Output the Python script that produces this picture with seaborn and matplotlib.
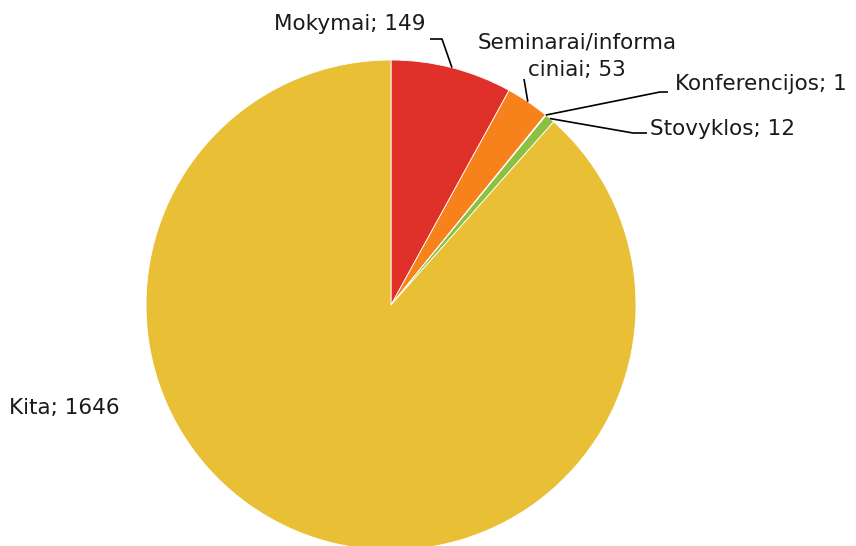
import numpy as np
import matplotlib
matplotlib.use("Agg")
import matplotlib.pyplot as plt
import seaborn as sns

categories = ["Mokymai", "Seminarai/informaciniai", "Konferencijos", "Stovyklos", "Kita"]
values = [149, 53, 1, 12, 1646]
label_texts = ["Mokymai; 149", "Seminarai/informa\nciniai; 53", "Konferencijos; 1",
               "Stovyklos; 12", "Kita; 1646"]
colors = ["#DF3129", "#F7821C", "#4F81BD", "#8BC040", "#E8BF35"]

sns.set_theme(style="white")
plt.rcParams["font.family"] = ["DejaVu Sans"]

W, H = 856, 546
CX, CY, R = 391, 305, 245


def px(x, y):
    # pixel position -> data coords of the unit pie
    return (x - CX) / R, (CY - y) / R


fig = plt.figure(figsize=(W / 100, H / 100), dpi=100)
ax = fig.add_axes([(CX - R) / W, (H - CY - R) / H, 2 * R / W, 2 * R / H])
wedges, _ = ax.pie(values, colors=colors, startangle=90, counterclock=False,
                   radius=1, wedgeprops={"edgecolor": "white", "linewidth": 0.6})
ax.set_xlim(-1, 1)
ax.set_ylim(-1, 1)
ax.set_aspect("equal")
ax.axis("off")
for w in wedges:
    w.set_clip_on(False)


def anchor(w):
    ang = np.deg2rad((w.theta1 + w.theta2) / 2)
    return np.cos(ang), np.sin(ang)


fs = 15.5
# label layout: (text pos px, ha, leader points px)
layout = [
    ((425, 24), "right", [(442, 39), (430, 39)]),
    ((577, 56), "center", [(524, 79)]),
    ((675, 84), "left", [(660, 92), (668, 92)]),
    ((650, 129), "left", [(633, 133), (647, 133)]),
    ((9, 408), "left", None),
]

for w, txt, (tp, ha, pts) in zip(wedges, label_texts, layout):
    tx, ty = px(*tp)
    ax.text(tx, ty, txt, ha=ha, va="center", fontsize=fs, color="#1a1a1a",
            multialignment="center", linespacing=1.45, clip_on=False)
    if pts:
        xs, ys = [anchor(w)[0]], [anchor(w)[1]]
        for p in pts:
            x, y = px(*p)
            xs.append(x)
            ys.append(y)
        ax.plot(xs, ys, color="black", lw=1.2, clip_on=False, solid_capstyle="butt")

fig.savefig("out.png", dpi=100)
